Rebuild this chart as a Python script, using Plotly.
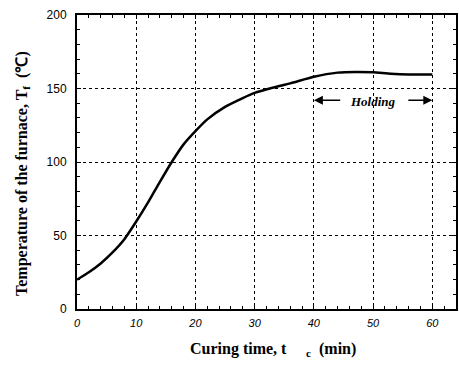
import plotly.graph_objects as go

time_min = [0, 2, 4, 6, 8, 10, 12, 14, 16, 18, 20, 22, 25, 28, 30, 33, 36, 40, 44, 47, 50, 53, 56, 60]
temp_c = [20, 25, 31, 38.5, 47.5, 59.5, 72.5, 86.5, 100, 112, 121, 129, 137.5, 143.5, 147, 150.5, 153.5, 158, 160.8, 161.3, 161, 160, 159.5, 159.5]

x_ticks = [0, 10, 20, 30, 40, 50, 60]
y_ticks = [0, 50, 100, 150, 200]

x_title = "<b>Curing time, t<sub>       c</sub>  (min)</b>"
y_title = "<b>Temperature of the furnace, T<sub>f</sub>  (℃)</b>"

fig = go.Figure()
fig.add_trace(go.Scatter(x=time_min, y=temp_c, mode="lines",
                         line=dict(color="black", width=2.5, shape="spline", smoothing=0.6),
                         showlegend=False, hoverinfo="skip"))

serif = "Liberation Serif, Times New Roman, serif"
sans = "Liberation Sans, Arial, sans-serif"

fig.update_layout(
    width=459, height=365,
    margin=dict(l=77, r=3, t=15, b=56),
    paper_bgcolor="white", plot_bgcolor="white",
    xaxis=dict(range=[0, 64], tickvals=x_ticks, ticktext=[f"<i>{v}</i>" for v in x_ticks],
               automargin=False, ticklabelstandoff=3,
               ticks="inside", ticklen=4, tickwidth=1, tickcolor="black",
               minor=dict(dtick=2, ticks="inside", ticklen=3, tickcolor="black", showgrid=False),
               showgrid=True, gridcolor="black", griddash="dot", gridwidth=1,
               showline=True, linecolor="black", linewidth=2, mirror="allticks",
               zeroline=False, tickfont=dict(family=sans, size=11, color="black")),
    yaxis=dict(range=[0, 200], tickvals=y_ticks,
               automargin=False, ticklabelstandoff=6,
               ticks="inside", ticklen=4, tickwidth=1, tickcolor="black",
               minor=dict(dtick=10, ticks="inside", ticklen=3, tickcolor="black", showgrid=False),
               showgrid=True, gridcolor="black", griddash="dot", gridwidth=1,
               showline=True, linecolor="black", linewidth=2, mirror="allticks",
               zeroline=False, tickfont=dict(family=sans, size=12, color="black")),
)

# axis titles
fig.add_annotation(x=0.516, y=-0.139, xref="paper", yref="paper", text=x_title,
                   showarrow=False, xanchor="center", yanchor="middle",
                   font=dict(family=serif, size=16, color="black"))
fig.add_annotation(x=-0.1425, y=0.4626, xref="paper", yref="paper", text=y_title,
                   showarrow=False, xanchor="center", yanchor="middle", textangle=-90,
                   font=dict(family=serif, size=16, color="black"))

# Holding annotation
fig.add_annotation(x=50, y=141, xref="x", yref="y", text="<b><i>Holding</i></b>",
                   showarrow=False, font=dict(family=serif, size=13, color="black"))
fig.add_annotation(x=40, y=142, ax=44.7, ay=142, xref="x", yref="y", axref="x", ayref="y",
                   text="", showarrow=True, arrowhead=2, arrowsize=1.2, arrowwidth=1.5, arrowcolor="black")
fig.add_annotation(x=60, y=142, ax=55.7, ay=142, xref="x", yref="y", axref="x", ayref="y",
                   text="", showarrow=True, arrowhead=2, arrowsize=1.2, arrowwidth=1.5, arrowcolor="black")

fig.write_html("out.html", config={"displayModeBar": False},
               post_script="document.body.style.margin='0';document.body.style.overflow='hidden';")
